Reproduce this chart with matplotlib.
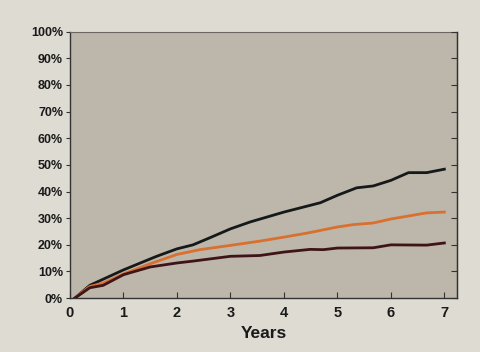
import matplotlib.pyplot as plt
from matplotlib.ticker import FuncFormatter

# series (years, percent)
black_x = [0.09, 0.37, 1.0, 1.62, 2.0, 2.3, 2.62, 3.0, 3.37, 4.0, 4.68, 5.0, 5.36, 5.67, 6.0, 6.33, 6.67, 7.0]
black_y = [0.0, 4.8, 10.6, 15.7, 18.5, 20.0, 22.7, 26.0, 28.6, 32.3, 35.8, 38.6, 41.4, 42.1, 44.2, 47.1, 47.1, 48.4]

orange_x = [0.09, 0.37, 0.62, 1.0, 1.5, 2.0, 2.43, 3.0, 3.55, 4.0, 4.43, 5.0, 5.3, 5.67, 6.0, 6.67, 7.0]
orange_y = [0.0, 4.4, 5.6, 9.1, 12.9, 16.4, 18.2, 19.8, 21.4, 22.9, 24.4, 26.7, 27.6, 28.2, 29.7, 32.0, 32.3]

maroon_x = [0.09, 0.37, 0.62, 1.0, 1.5, 2.0, 2.3, 3.0, 3.55, 4.0, 4.49, 4.74, 5.0, 5.67, 6.0, 6.67, 7.0]
maroon_y = [0.0, 3.9, 4.8, 8.8, 11.7, 13.2, 13.9, 15.7, 16.0, 17.3, 18.3, 18.2, 18.8, 18.9, 20.0, 19.9, 20.7]

x_ticks = [0, 1, 2, 3, 4, 5, 6, 7]
y_ticks = [0, 10, 20, 30, 40, 50, 60, 70, 80, 90, 100]

plt.rcParams['font.family'] = ['Liberation Sans', 'DejaVu Sans']
plt.rcParams['font.weight'] = 'bold'

fig = plt.figure(figsize=(4.81, 3.52), dpi=100, facecolor='#dedbd3')
ax = fig.add_axes([0.1455, 0.153, 0.805, 0.757])
ax.set_facecolor('#bdb6aa')

ax.plot(black_x, black_y, color='#15191a', lw=2.0)
ax.plot(orange_x, orange_y, color='#d9702e', lw=2.0)
ax.plot(maroon_x, maroon_y, color='#3e1418', lw=2.0)

ax.set_xlim(0, 7.24)
ax.set_ylim(0, 100)
ax.set_xticks(x_ticks)
ax.set_yticks(y_ticks)
ax.yaxis.set_major_formatter(FuncFormatter(lambda v, p: '%d%%' % v))

ax.tick_params(axis='x', direction='in', length=4, color='#333333', labelsize=10.5, pad=6)
ax.tick_params(axis='y', direction='out', length=3, color='#333333', labelsize=9, pad=2)

# inward ticks on the right side
ax2 = ax.twinx()
ax2.set_ylim(0, 100)
ax2.set_yticks(y_ticks)
ax2.tick_params(axis='y', direction='in', length=4, color='#333333', labelright=False)
ax2.spines['right'].set_color('#333333')
ax2.spines['top'].set_visible(False)
ax2.spines['left'].set_visible(False)
ax2.spines['bottom'].set_visible(False)

for lab in ax.get_xticklabels() + ax.get_yticklabels():
    lab.set_fontweight('bold')
    lab.set_color('#1a1a1a')

for s in ['left', 'bottom', 'right']:
    ax.spines[s].set_color('#333333')
    ax.spines[s].set_linewidth(1.0)
ax.spines['top'].set_color('#6a6560')
ax.spines['top'].set_linewidth(0.8)

ax.set_xlabel('Years', fontsize=12.5, fontweight='bold', color='#1a1a1a', labelpad=4)

fig.savefig('out.png', dpi=100, facecolor=fig.get_facecolor())
